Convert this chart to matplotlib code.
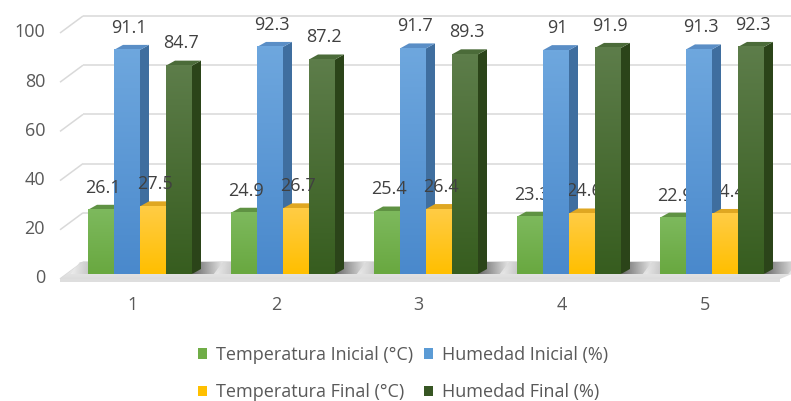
import numpy as np
import matplotlib
matplotlib.use("Agg")
import matplotlib.pyplot as plt
from matplotlib.patches import Polygon, Rectangle
from matplotlib.colors import to_rgb

plt.rcParams["font.family"] = ["Open Sans", "DejaVu Sans"]

# ---- data -------------------------------------------------------------
categories = ["1", "2", "3", "4", "5"]
temp_inicial = [26.1, 24.9, 25.4, 23.3, 22.9]
hum_inicial = [91.1, 92.3, 91.7, 91.0, 91.3]
temp_final = [27.5, 26.7, 26.4, 24.6, 24.4]
hum_final = [84.7, 87.2, 89.3, 91.9, 92.3]
series_names = ["Temperatura Inicial (°C)", "Humedad Inicial (%)",
                "Temperatura Final (°C)", "Humedad Final (%)"]
y_ticks = [0, 20, 40, 60, 80, 100]

series = [temp_inicial, hum_inicial, temp_final, hum_final]

# colours per series: front (top, bottom), top face, side face, legend
styles = [
    dict(front=("#7db95d", "#69a840"), top="#5f9243", side="#4d7a34", key="#70ad47"),
    dict(front=("#6ea7de", "#4a89cc"), top="#5a8ec6", side="#3f6e9f", key="#5b9bd5"),
    dict(front=("#ffcc45", "#ffbf00"), top="#dfa722", side="#bf8d0c", key="#ffc000"),
    dict(front=("#5d7d4a", "#375d1f"), top="#4b6b39", side="#2b4419", key="#375623"),
]

# ---- geometry (category units horizontally, value units vertically) ----
W_PX, H_PX = 791, 401
X_ORIGIN_PX, Y_ORIGIN_PX = 140, 274
PX_PER_CAT, PX_PER_VAL = 143.0, 2.46

bar_w = 26 / PX_PER_CAT
depth_dx, depth_dv = 9 / PX_PER_CAT, 5 / PX_PER_VAL

floor_front_v, floor_back_v = -5 / PX_PER_VAL, 12 / PX_PER_VAL
wall_left_front_x = (60 - X_ORIGIN_PX) / PX_PER_CAT
wall_left_back_x = (83 - X_ORIGIN_PX) / PX_PER_CAT
floor_right_front_x = (780 - X_ORIGIN_PX) / PX_PER_CAT
x_max = (W_PX - X_ORIGIN_PX) / PX_PER_CAT
x_min = -X_ORIGIN_PX / PX_PER_CAT
v_max = Y_ORIGIN_PX / PX_PER_VAL
v_min = (Y_ORIGIN_PX - H_PX) / PX_PER_VAL

fig = plt.figure(figsize=(W_PX / 100, H_PX / 100), dpi=100)
ax = fig.add_axes([0, 0, 1, 1])
ax.set_xlim(x_min, x_max)
ax.set_ylim(v_min, v_max)
ax.axis("off")


def grad_image(c0, c1, n=64, horizontal=False):
    a, b = np.array(to_rgb(c0)), np.array(to_rgb(c1))
    t = np.linspace(0, 1, n)[:, None]
    img = a * (1 - t) + b * t
    if horizontal:
        return img[None, :, :]
    return img[:, None, :]


def gradient_patch(poly_pts, c0, c1, extent, z, horizontal=False, alpha=1.0):
    clip = Polygon(poly_pts, closed=True, facecolor="none", edgecolor="none",
                   transform=ax.transData)
    ax.add_patch(clip)
    im = ax.imshow(grad_image(c0, c1, horizontal=horizontal), extent=extent,
                   origin="upper", aspect="auto", interpolation="bilinear",
                   zorder=z, alpha=alpha)
    im.set_clip_path(clip)


# ---- walls: gridlines on the left wall and the back wall ---------------
grid_c = "#d9d9d9"
for v in y_ticks:
    vf = v + floor_front_v
    vb = v + floor_back_v
    ax.plot([wall_left_front_x, wall_left_back_x], [vf, vb], color=grid_c,
            lw=1.1, zorder=1, solid_capstyle="butt")
    ax.plot([wall_left_back_x, x_max + 0.1], [vb, vb], color=grid_c,
            lw=1.1, zorder=1, solid_capstyle="butt")
    ax.text((45 - X_ORIGIN_PX) / PX_PER_CAT, v - 1.8, str(v), ha="right",
            va="center", fontsize=13, color="#595959")

# ---- floor -------------------------------------------------------------
floor_pts = [(wall_left_front_x, floor_front_v),
             (floor_right_front_x, floor_front_v),
             (x_max + 0.2, floor_back_v),
             (wall_left_back_x, floor_back_v)]
gradient_patch(floor_pts, "#f4f4f4", "#dcdcdc",
               (x_min, x_max + 0.2, floor_front_v, floor_back_v), 2)
slab_h = 2.5 / PX_PER_VAL
ax.add_patch(Rectangle((wall_left_front_x, floor_front_v - slab_h),
                       floor_right_front_x - wall_left_front_x, slab_h,
                       facecolor="#dedede", edgecolor="none", zorder=2))

# ---- bars --------------------------------------------------------------
z = 10
n_series = len(series)
for i, cat in enumerate(categories):
    left = i - n_series * bar_w / 2
    right = left + n_series * bar_w
    # floor shadow to the right of each cluster
    sh_pts = [(right, 0), (right + 0.17, 0),
              (right + 0.17 + depth_dx, floor_back_v),
              (right + depth_dx, floor_back_v)]
    gradient_patch(sh_pts, "#5a5a5a", "#f0f0f0",
                   (right, right + 0.17 + depth_dx, 0, floor_back_v), 3,
                   horizontal=True, alpha=0.9)
    sh_pts2 = [(left - 0.12, 0), (left, 0), (left + depth_dx, floor_back_v),
               (left - 0.12 + depth_dx, floor_back_v)]
    gradient_patch(sh_pts2, "#f0f0f0", "#a8a8a8",
                   (left - 0.12, left + depth_dx, 0, floor_back_v), 3,
                   horizontal=True, alpha=0.8)

    for s, vals in enumerate(series):
        h = vals[i]
        st = styles[s]
        x0 = left + s * bar_w
        x1 = x0 + bar_w
        # right side face
        ax.add_patch(Polygon([(x1, 0), (x1 + depth_dx, depth_dv),
                              (x1 + depth_dx, h + depth_dv), (x1, h)],
                             closed=True, facecolor=st["side"],
                             edgecolor="none", zorder=z))
        # top face
        ax.add_patch(Polygon([(x0, h), (x1, h), (x1 + depth_dx, h + depth_dv),
                              (x0 + depth_dx, h + depth_dv)],
                             closed=True, facecolor=st["top"],
                             edgecolor="none", zorder=z + 1))
        # front face with vertical gradient
        ax.imshow(grad_image(*st["front"]), extent=(x0, x1, 0, h),
                  origin="upper", aspect="auto", interpolation="bilinear",
                  zorder=z + 2)
        # value label
        ax.text(x0 + bar_w / 2 + 0.012, h + 9.0, f"{h:g}", ha="center",
                va="center", fontsize=13, color="#404040", zorder=50)
        z += 3

    ax.text(i - 0.05, (Y_ORIGIN_PX - 305) / PX_PER_VAL, cat, ha="center",
            va="center", fontsize=13, color="#595959")

ax.set_xlim(x_min, x_max)
ax.set_ylim(v_min, v_max)

# ---- legend --------------------------------------------------------------
handles = [Rectangle((0, 0), 1, 1, facecolor=st["key"], edgecolor="none")
           for st in styles]
order = [0, 2, 1, 3]
fig.legend([handles[k] for k in order], [series_names[k] for k in order],
           ncol=2, loc="center", bbox_to_anchor=(0.51, 0.068), frameon=False,
           fontsize=13, labelcolor="#595959", handlelength=0.5,
           handleheight=0.5, handletextpad=0.5, columnspacing=0.6,
           labelspacing=1.08)

fig.savefig("out.png", dpi=100)
